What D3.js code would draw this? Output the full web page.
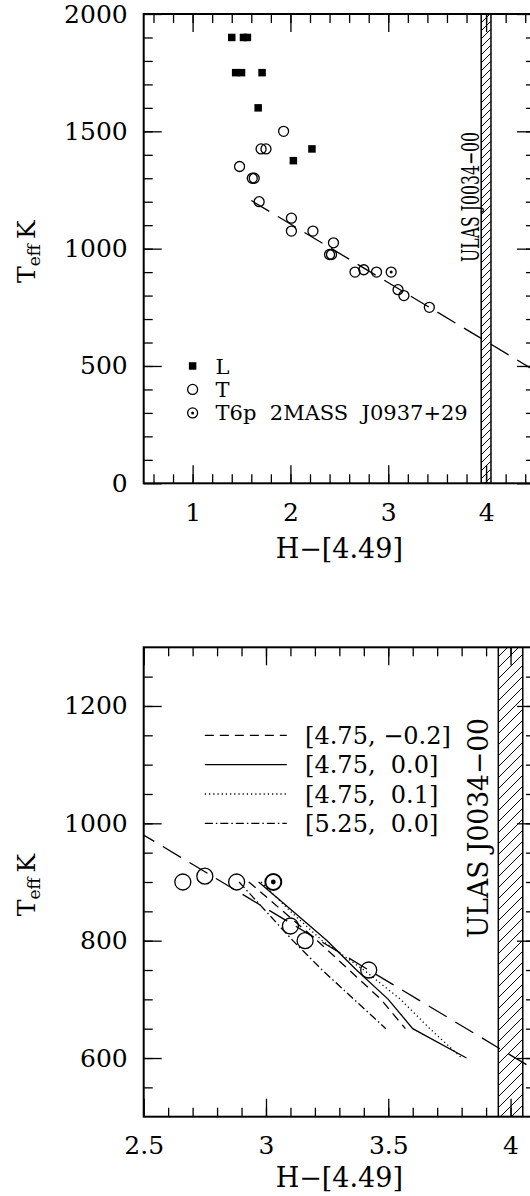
<!DOCTYPE html>
<html>
<head>
<meta charset="utf-8">
<script src="https://cdn.jsdelivr.net/npm/d3@7"></script>
<style>
  body { margin: 0; background: #fff; }
  svg text { font-family: "DejaVu Serif", serif; fill: #000; }
</style>
</head>
<body>
<svg width="530" height="1196"></svg>
<script>
// L dwarfs (filled squares)
const lColour = [1.40, 1.52, 1.56, 1.44, 1.50, 1.71, 1.67, 2.22, 2.03];
const lTeff   = [1900, 1900, 1900, 1750, 1750, 1750, 1600, 1425, 1375];

// T dwarfs (open circles)
const tColour = [1.93, 1.70, 1.75, 1.48, 1.61, 1.63, 1.68, 2.01, 2.01, 2.23, 2.44, 2.40, 2.42, 2.66, 2.75, 2.88, 3.10, 3.16, 3.42];
const tTeff   = [1500, 1425, 1425, 1350, 1300, 1300, 1200, 1130, 1075, 1075, 1025, 975, 975, 900, 910, 900, 825, 800, 750];

// T6p 2MASS J0937+29
const pecColour = [3.03];
const pecTeff   = [900];

// linear fit (long dashes)
const fitColour = [1.60, 4.50];
const fitTeff   = [1205, 480];

// ULAS J0034-00 colour range (hatched)
const ulasRange = [3.95, 4.05];

// model tracks, Teff grid
const modelTeff = [900, 850, 800, 750, 700, 650, 600];
const modelNames = ["[4.75, \u22120.2]", "[4.75,  0.0]", "[4.75,  0.1]", "[5.25,  0.0]"];
const modelColour = [
  [2.93, 3.07, 3.21, 3.34, 3.47, 3.57],
  [2.97, 3.11, 3.25, 3.37, 3.50, 3.60, 3.82],
  [2.98, 3.10, 3.23, 3.40, 3.55, 3.67, 3.80],
  [2.89, 3.00, 3.11, 3.23, 3.36, 3.49]
];
const modelDash = ["9,6", null, "1.2,3", "8,3,1.5,3"];
const modelLegendTeff = [1150, 1100, 1050, 1000];

const svg = d3.select('svg');

function panel(o) {
  const x = d3.scaleLinear().domain(o.xDom).range([143.7, 535]);
  const y = d3.scaleLinear().domain(o.yDom).range([o.bottom, o.top]);
  const g = svg.append('g');
  const clipId = 'clip' + o.id;
  const defs = svg.append('defs');
  defs.append('clipPath').attr('id', clipId)
    .append('rect').attr('x', x.range()[0]).attr('y', o.top)
    .attr('width', x.range()[1] - x.range()[0]).attr('height', o.bottom - o.top);
  const h = o.hatch;
  const pat = defs.append('pattern')
    .attr('id', 'hatch' + o.id).attr('patternUnits', 'userSpaceOnUse')
    .attr('width', h).attr('height', h);
  pat.append('path').attr('d', `M0,${h} L${h},0 M${-h/2},${h/2} L${h/2},${-h/2} M${h/2},${h*1.5} L${h*1.5},${h/2}`)
    .attr('stroke', '#000').attr('stroke-width', 1);

  const plot = g.append('g').attr('clip-path', `url(#${clipId})`);

  // hatched band
  plot.append('rect')
    .attr('x', x(ulasRange[0])).attr('y', o.top)
    .attr('width', x(ulasRange[1]) - x(ulasRange[0])).attr('height', o.bottom - o.top)
    .attr('fill', `url(#hatch${o.id})`).attr('stroke', '#000').attr('stroke-width', 1.5);

  // fit line
  plot.append('path')
    .datum(d3.zip(fitColour, fitTeff))
    .attr('d', d3.line().x(d => x(d[0])).y(d => y(d[1])))
    .attr('fill', 'none').attr('stroke', '#000').attr('stroke-width', 1.3)
    .attr('stroke-dasharray', '21,10');

  // models
  if (o.models) {
    modelColour.forEach((cs, i) => {
      plot.append('path')
        .datum(cs.map((c, j) => [c, modelTeff[j]]))
        .attr('d', d3.line().x(d => x(d[0])).y(d => y(d[1])))
        .attr('fill', 'none').attr('stroke', '#000').attr('stroke-width', 1.3)
        .attr('stroke-dasharray', modelDash[i]);
    });
  }

  // L squares
  const s = o.sq;
  plot.selectAll(null).data(d3.zip(lColour, lTeff)).join('rect')
    .attr('x', d => x(d[0]) - s / 2).attr('y', d => y(d[1]) - s / 2)
    .attr('width', s).attr('height', s).attr('fill', '#000');

  // T circles
  plot.selectAll(null).data(d3.zip(tColour, tTeff)).join('circle')
    .attr('cx', d => x(d[0])).attr('cy', d => y(d[1])).attr('r', o.r)
    .attr('fill', 'none').attr('stroke', '#000').attr('stroke-width', 1.3);

  // peculiar T6p
  const pec = d3.zip(pecColour, pecTeff);
  plot.selectAll(null).data(pec).join('circle')
    .attr('cx', d => x(d[0])).attr('cy', d => y(d[1])).attr('r', o.r)
    .attr('fill', 'none').attr('stroke', '#000').attr('stroke-width', o.pecW);
  plot.selectAll(null).data(pec).join('circle')
    .attr('cx', d => x(d[0])).attr('cy', d => y(d[1])).attr('r', o.r * 0.3)
    .attr('fill', '#000');

  // ULAS label
  g.append('text')
    .attr('transform', `translate(${o.ulas.x},${o.ulas.y}) rotate(-90)`)
    .attr('font-size', o.ulas.size)
    .attr('textLength', o.ulas.len).attr('lengthAdjust', 'spacingAndGlyphs')
    .text('ULAS J0034\u221200');

  // axes
  const fmt = d => String(d);
  const styleAxis = sel => {
    sel.select('.domain').remove();
    sel.selectAll('line').attr('stroke', '#000').attr('stroke-width', 1.3);
    sel.selectAll('text').attr('font-size', 25).attr('font-family', '"DejaVu Serif", serif').attr('fill', '#000');
  };
  const xMinor = d3.range(o.xMinor[0], o.xMinor[1] + 1e-6, o.xMinor[2]);
  const yMinor = d3.range(o.yMinor[0], o.yMinor[1] + 1e-6, o.yMinor[2]);
  const [x0, x1] = x.range();

  g.append('g').attr('transform', `translate(0,${o.bottom})`)
    .call(d3.axisBottom(x).tickValues(o.xMajor).tickSizeInner(-18).tickSizeOuter(0).tickPadding(20).tickFormat(fmt)).call(styleAxis);
  g.append('g').attr('transform', `translate(0,${o.bottom})`)
    .call(d3.axisBottom(x).tickValues(xMinor).tickSizeInner(-9).tickSizeOuter(0).tickFormat('')).call(styleAxis);
  g.append('g').attr('transform', `translate(0,${o.top})`)
    .call(d3.axisTop(x).tickValues(o.xMajor).tickSizeInner(-18).tickSizeOuter(0).tickFormat('')).call(styleAxis);
  g.append('g').attr('transform', `translate(0,${o.top})`)
    .call(d3.axisTop(x).tickValues(xMinor).tickSizeInner(-9).tickSizeOuter(0).tickFormat('')).call(styleAxis);
  g.append('g').attr('transform', `translate(${x0},0)`)
    .call(d3.axisLeft(y).tickValues(o.yMajor).tickSizeInner(-18).tickSizeOuter(0).tickPadding(16).tickFormat(fmt)).call(styleAxis);
  g.append('g').attr('transform', `translate(${x0},0)`)
    .call(d3.axisLeft(y).tickValues(yMinor).tickSizeInner(-9).tickSizeOuter(0).tickFormat('')).call(styleAxis);
  g.append('g').attr('transform', `translate(${x1},0)`)
    .call(d3.axisRight(y).tickValues(o.yMajor).tickSizeInner(-18).tickSizeOuter(0).tickFormat('')).call(styleAxis);
  g.append('g').attr('transform', `translate(${x1},0)`)
    .call(d3.axisRight(y).tickValues(yMinor).tickSizeInner(-9).tickSizeOuter(0).tickFormat('')).call(styleAxis);

  // frame
  g.append('rect').attr('x', x0).attr('y', o.top)
    .attr('width', x1 - x0).attr('height', o.bottom - o.top)
    .attr('fill', 'none').attr('stroke', '#000').attr('stroke-width', 2);

  // axis titles
  g.append('text').attr('x', (x0 + x1) / 2).attr('y', o.bottom + o.titleGap)
    .attr('text-anchor', 'middle').attr('font-size', 27).text('H\u2212[4.49]');
  const yt = g.append('text')
    .attr('transform', `translate(35,${(o.top + o.bottom) / 2 + 3}) rotate(-90)`)
    .attr('text-anchor', 'middle').attr('font-size', 25);
  yt.append('tspan').text('T');
  yt.append('tspan').attr('font-size', 17).attr('dy', 5).text('eff');
  yt.append('tspan').attr('dy', -5).text('\u2009K');

  return { x, y, g };
}

// top panel
const topP = panel({
  id: 'a', xDom: [0.5, 4.5], yDom: [0, 2000], top: 14, bottom: 483.3,
  xMajor: [1, 2, 3, 4], xMinor: [0.6, 4.4, 0.2],
  yMajor: [0, 500, 1000, 1500, 2000], yMinor: [100, 1900, 100],
  r: 5, sq: 7.5, pecW: 1.3, hatch: 8, models: false, titleGap: 75,
  ulas: { x: 479, y: 262, len: 130, size: 24 }
});

// legend top
const legT = [500, 400, 300];
const lg = topP.g.append('g');
lg.append('rect').attr('x', topP.x(1.0) - 3.75).attr('y', topP.y(legT[0]) - 3.75)
  .attr('width', 7.5).attr('height', 7.5).attr('fill', '#000');
lg.append('circle').attr('cx', topP.x(1.0)).attr('cy', topP.y(legT[1])).attr('r', 5)
  .attr('fill', 'none').attr('stroke', '#000').attr('stroke-width', 1.3);
lg.append('circle').attr('cx', topP.x(1.0)).attr('cy', topP.y(legT[2])).attr('r', 5)
  .attr('fill', 'none').attr('stroke', '#000').attr('stroke-width', 1.3);
lg.append('circle').attr('cx', topP.x(1.0)).attr('cy', topP.y(legT[2])).attr('r', 1.5).attr('fill', '#000');
['L', 'T', 'T6p  2MASS  J0937+29'].forEach((t, i) => {
  lg.append('text').attr('x', topP.x(1.0) + 23).attr('y', topP.y(legT[i])).attr('dy', '0.36em')
    .attr('font-size', 21).style('white-space', 'pre').text(t);
});

// bottom panel
const botP = panel({
  id: 'b', xDom: [2.5, 4.1], yDom: [500, 1300], top: 647.3, bottom: 1116.7,
  xMajor: [2.5, 3, 3.5, 4], xMinor: [2.6, 4.1, 0.1],
  yMajor: [600, 800, 1000, 1200], yMinor: [550, 1250, 50],
  r: 8, sq: 8, pecW: 2, hatch: 11, models: true, titleGap: 70,
  ulas: { x: 488, y: 938, len: 220, size: 27 }
});

// legend bottom
modelNames.forEach((n, i) => {
  const yy = botP.y(modelLegendTeff[i]);
  botP.g.append('line').attr('x1', botP.x(2.75)).attr('x2', botP.x(3.085))
    .attr('y1', yy).attr('y2', yy)
    .attr('stroke', '#000').attr('stroke-width', 1.3).attr('stroke-dasharray', modelDash[i]);
  botP.g.append('text').attr('x', botP.x(3.16)).attr('y', yy).attr('dy', '0.36em')
    .attr('font-size', 24).style('white-space', 'pre').text(n);
});
</script>
</body>
</html>
